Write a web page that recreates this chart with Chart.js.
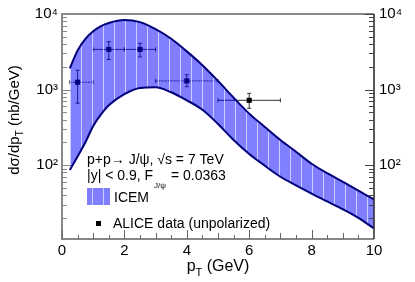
<!DOCTYPE html>
<html>
<head>
<meta charset="utf-8">
<script src="https://cdn.jsdelivr.net/npm/chart.js@4.4.0/dist/chart.umd.min.js"></script>
<style>
  html, body { margin: 0; padding: 0; background: #fff; }
</style>
</head>
<body>
<canvas id="myChart" width="415" height="282"></canvas>
<script>
// ICEM band, d sigma / dpT (nb/GeV)
const ptGrid    = [0.25, 0.5, 0.75, 1.0, 1.25, 1.5, 2.0, 2.5, 3.0, 3.5, 4.0, 4.5, 5.0, 5.5, 6.0, 6.5, 7.0, 7.5, 8.0, 8.5, 9.0, 9.5, 10.0];
const icemUpper = [1900, 3300, 4700, 5900, 6900, 7600, 8300, 7800, 6300, 4700, 3200, 2100, 1300, 780, 480, 320, 215, 150, 104, 78, 60, 46, 35];
const icemLower = [86, 130, 200, 330, 470, 620, 870, 1050, 1070, 920, 720, 540, 350, 215, 140, 98, 70, 54, 42, 33, 26, 20, 14.5];

// ALICE data (unpolarized)
const alicePt  = [0.5, 1.5, 2.5, 4.0, 6.0];
const aliceXlo = [0.25, 1.0, 2.0, 3.0, 5.0];
const aliceXhi = [1.0, 2.0, 3.0, 5.0, 7.0];
const aliceY   = [1250, 3400, 3400, 1300, 720];
const aliceYlo = [660, 2500, 2700, 1090, 565];
const aliceYhi = [1800, 4300, 4100, 1570, 890];
const aliceDotted = [true, false, false, true, false];

// axis ticks
const xTickValues = [0, 2, 4, 6, 8, 10];
const yTickValues = [100, 1000, 10000];
const yTickLabels = ['10\u00B2', '10\u00B3', '10\u2074'];

const FONT = '"Liberation Sans", Arial, Helvetica, sans-serif';

const ctx = document.getElementById('myChart').getContext('2d');

function makeHatch(c2d) {
  const c = document.createElement('canvas');
  c.width = 11; c.height = 4;
  const g = c.getContext('2d');
  g.fillStyle = 'rgba(0,0,255,0.5)';
  g.fillRect(0, 0, 11, 4);
  g.fillStyle = 'rgba(255,255,255,0.6)';
  g.fillRect(4, 0, 1, 4);
  return c2d.createPattern(c, 'repeat');
}
const hatch = makeHatch(ctx);

// error bars, drawn before the band so the band tints them
const errorBars = {
  id: 'errorBars',
  beforeDatasetsDraw(chart) {
    const { ctx, scales: { x, y } } = chart;
    ctx.save();
    ctx.strokeStyle = '#333';
    ctx.lineWidth = 1;
    alicePt.forEach((pt, i) => {
      const px = x.getPixelForValue(pt), py = y.getPixelForValue(aliceY[i]);
      const x0 = x.getPixelForValue(aliceXlo[i]), x1 = x.getPixelForValue(aliceXhi[i]);
      const y0 = y.getPixelForValue(aliceYlo[i]), y1 = y.getPixelForValue(aliceYhi[i]);
      ctx.setLineDash(aliceDotted[i] ? [2, 1] : []);
      ctx.beginPath();
      ctx.moveTo(x0, py); ctx.lineTo(x1, py);
      ctx.stroke();
      ctx.setLineDash([]);
      ctx.beginPath();
      ctx.moveTo(px, y0); ctx.lineTo(px, y1);
      ctx.moveTo(x0, py - 2); ctx.lineTo(x0, py + 2);
      ctx.moveTo(x1, py - 2); ctx.lineTo(x1, py + 2);
      ctx.moveTo(px - 2, y0); ctx.lineTo(px + 2, y0);
      ctx.moveTo(px - 2, y1); ctx.lineTo(px + 2, y1);
      ctx.stroke();
    });
    ctx.restore();
  }
};

// frame, inward ticks, titles and legend
const decorations = {
  id: 'decorations',
  afterDraw(chart) {
    const { ctx, chartArea: a, scales: { x, y } } = chart;
    ctx.save();
    // frame
    ctx.lineWidth = 2;
    ctx.strokeStyle = '#888';
    ctx.beginPath();
    ctx.moveTo(a.right, a.top); ctx.lineTo(a.left, a.top);
    ctx.lineTo(a.left, a.bottom); ctx.lineTo(a.right, a.bottom);
    ctx.stroke();
    ctx.strokeStyle = '#222';
    ctx.lineWidth = 1.5;
    ctx.beginPath();
    ctx.moveTo(a.right, a.top); ctx.lineTo(a.right, a.bottom);
    ctx.stroke();

    // log ticks
    ctx.lineWidth = 1;
    for (let e = 1; e <= 4; e++) {
      for (let k = 1; k <= 9; k++) {
        const v = k * Math.pow(10, e);
        if (v < y.min || v > y.max) continue;
        const py = Math.round(y.getPixelForValue(v)) + 0.5;
        const len = k === 1 ? 9 : 5;
        ctx.strokeStyle = '#888';
        ctx.beginPath(); ctx.moveTo(a.left, py); ctx.lineTo(a.left + len, py); ctx.stroke();
        ctx.strokeStyle = '#444';
        ctx.beginPath(); ctx.moveTo(a.right, py); ctx.lineTo(a.right - len, py); ctx.stroke();
      }
    }
    // x ticks
    ctx.strokeStyle = '#666';
    for (let t = 0; t <= 20; t++) {
      const v = t / 2;
      const px = Math.round(x.getPixelForValue(v)) + 0.5;
      const len = t % 4 === 0 ? 9 : (t % 2 === 0 ? 6 : 4);
      ctx.beginPath(); ctx.moveTo(px, a.bottom); ctx.lineTo(px, a.bottom - len); ctx.stroke();
    }

    ctx.fillStyle = '#000';
    ctx.textBaseline = 'alphabetic';
    // x title
    ctx.font = '16px ' + FONT;
    let w1 = ctx.measureText('p').width;
    ctx.font = '11px ' + FONT;
    let w2 = ctx.measureText('T').width;
    ctx.font = '16px ' + FONT;
    let w3 = ctx.measureText(' (GeV)').width;
    let sx = 218 - (w1 + w2 + w3) / 2;
    ctx.fillText('p', sx, 271);
    ctx.font = '11px ' + FONT;
    ctx.fillText('T', sx + w1, 276);
    ctx.font = '16px ' + FONT;
    ctx.fillText(' (GeV)', sx + w1 + w2, 271);

    // y title
    ctx.save();
    ctx.translate(19, 120);
    ctx.rotate(-Math.PI / 2);
    ctx.font = '15px ' + FONT;
    w1 = ctx.measureText('d\u03C3/dp').width;
    ctx.font = '10px ' + FONT;
    w2 = ctx.measureText('T').width;
    ctx.font = '15px ' + FONT;
    w3 = ctx.measureText(' (nb/GeV)').width;
    sx = -(w1 + w2 + w3) / 2;
    ctx.fillText('d\u03C3/dp', sx, 0);
    ctx.font = '10px ' + FONT;
    ctx.fillText('T', sx + w1, 4);
    ctx.font = '15px ' + FONT;
    ctx.fillText(' (nb/GeV)', sx + w1 + w2, 0);
    ctx.restore();

    // legend text block
    ctx.font = '14px ' + FONT;
    ctx.fillText('p+p\u2192 J/\u03C8, \u221As = 7 TeV', 87, 164);
    const l2 = '|y| < 0.9, F';
    ctx.fillText(l2, 87, 180);
    const fEnd = 87 + ctx.measureText(l2).width;
    ctx.font = '8px ' + FONT;
    ctx.fillText('J/\u03C8', fEnd + 1, 188);
    ctx.font = '14px ' + FONT;
    ctx.fillText('= 0.0363', fEnd + 18, 180);

    ctx.fillStyle = '#fff';
    ctx.fillRect(87, 188, 23, 17);
    ctx.fillStyle = hatch;
    ctx.fillRect(87, 188, 23, 17);
    ctx.fillStyle = '#000';
    ctx.fillText('ICEM', 114, 202);

    ctx.fillRect(96, 221, 5, 5);
    ctx.fillText('ALICE data (unpolarized)', 113, 228);
    ctx.restore();
  }
};

const myChart = new Chart(ctx, {
  type: 'line',
  data: {
    datasets: [
      {
        label: 'ALICE data',
        type: 'scatter',
        data: alicePt.map((v, i) => ({ x: v, y: aliceY[i] })),
        pointStyle: 'rect',
        pointRadius: 3.6,
        backgroundColor: '#000',
        borderColor: '#000',
        borderWidth: 0,
        order: 3
      },
      {
        label: 'ICEM upper',
        data: ptGrid.map((v, i) => ({ x: v, y: icemUpper[i] })),
        borderColor: '#00007a',
        borderWidth: 2,
        pointRadius: 0,
        cubicInterpolationMode: 'monotone',
        fill: '+1',
        backgroundColor: hatch,
        order: 2
      },
      {
        label: 'ICEM lower',
        data: ptGrid.map((v, i) => ({ x: v, y: icemLower[i] })),
        borderColor: '#00007a',
        borderWidth: 2,
        pointRadius: 0,
        cubicInterpolationMode: 'monotone',
        fill: false,
        order: 1
      }
    ]
  },
  options: {
    responsive: false,
    animation: false,
    layout: { padding: { top: 14, left: 0, right: 0, bottom: 0 } },
    plugins: {
      legend: { display: false },
      title: { display: false },
      tooltip: { enabled: false }
    },
    scales: {
      x: {
        type: 'linear', min: 0, max: 10,
        afterBuildTicks: s => { s.ticks = xTickValues.map(v => ({ value: v })); },
        afterFit: s => { s.height = 43; },
        ticks: { font: { family: FONT, size: 15 }, color: '#000', padding: 3, maxRotation: 0, callback: v => String(v) },
        grid: { display: false, drawTicks: false },
        border: { display: false }
      },
      y: {
        type: 'logarithmic', position: 'left', min: 10.5, max: 10000,
        afterBuildTicks: s => { s.ticks = yTickValues.map(v => ({ value: v })); },
        afterFit: s => { s.width = 62; },
        ticks: { font: { family: FONT, size: 15 }, color: '#000', padding: 4, callback: (v, i) => yTickLabels[i] },
        grid: { display: false, drawTicks: false },
        border: { display: false }
      },
      y2: {
        type: 'logarithmic', position: 'right', min: 10.5, max: 10000,
        afterBuildTicks: s => { s.ticks = yTickValues.map(v => ({ value: v })); },
        afterFit: s => { s.width = 41; },
        ticks: { font: { family: FONT, size: 15 }, color: '#000', padding: 5, callback: (v, i) => yTickLabels[i] },
        grid: { display: false, drawTicks: false },
        border: { display: false }
      }
    }
  },
  plugins: [errorBars, decorations]
});
</script>
</body>
</html>
